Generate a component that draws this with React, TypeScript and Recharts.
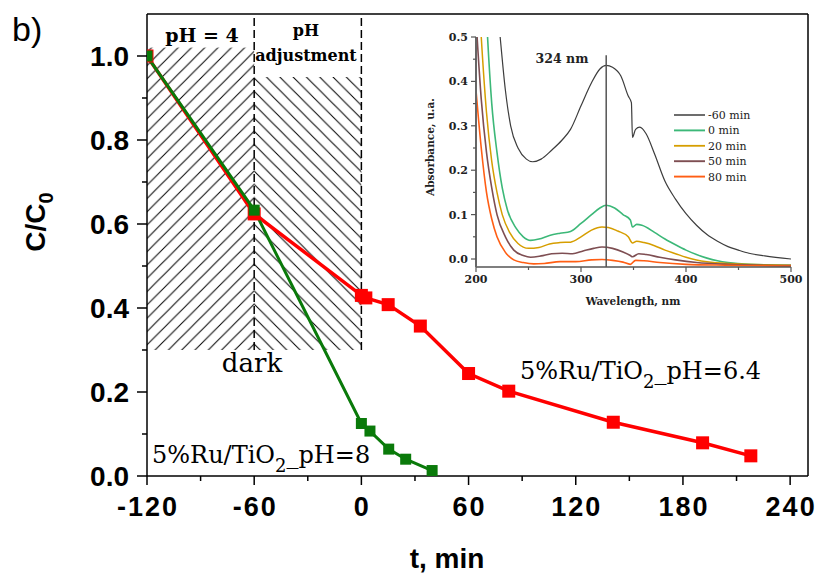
import React from 'react';
import { LineChart, Line, XAxis, YAxis, ReferenceArea, ReferenceLine } from 'recharts';

// ---- Main chart data ----
const ph64Times = [-120, -60, 0, 2.5, 15, 33, 60, 82.5, 141, 191, 218];
const ph64Values = [1.0, 0.624, 0.43, 0.424, 0.408, 0.357, 0.244, 0.202, 0.128, 0.079, 0.048];
const ph8Times = [-120, -60, 0, 4.8, 15.3, 24.8, 39.6];
const ph8Values = [1.0, 0.633, 0.125, 0.107, 0.064, 0.04, 0.013];

const xMajor = [-120, -60, 0, 60, 120, 180, 240];
const xAllTicks = [-120, -90, -60, -30, 0, 30, 60, 90, 120, 150, 180, 210, 240];
const yMajor = [0, 0.2, 0.4, 0.6, 0.8, 1.0];
const yAllTicks = [0, 0.1, 0.2, 0.3, 0.4, 0.5, 0.6, 0.7, 0.8, 0.9, 1.0];

// ---- Inset data (UV-vis spectra) ----
const wlM60 = [216, 223, 228, 233, 240, 248, 254, 262, 272, 282, 290, 300, 310, 318, 324, 330, 338, 345, 348, 349, 352, 356, 362, 370, 380, 390, 400, 410, 420, 430, 440, 450, 460, 475, 500];
const absM60 = [0.68, 0.5, 0.38, 0.3, 0.25, 0.225, 0.219, 0.225, 0.245, 0.268, 0.292, 0.345, 0.397, 0.428, 0.436, 0.432, 0.412, 0.367, 0.352, 0.274, 0.292, 0.297, 0.282, 0.237, 0.175, 0.135, 0.102, 0.076, 0.055, 0.04, 0.028, 0.02, 0.013, 0.007, 0.0];
const wl0 = [207, 211, 215, 220, 225, 230, 238, 245, 252, 260, 270, 280, 290, 300, 310, 318, 324, 332, 340, 347, 349, 353, 358, 370, 380, 390, 400, 410, 420, 430, 440, 460, 500];
const abs0 = [0.7, 0.5, 0.35, 0.24, 0.16, 0.11, 0.07, 0.05, 0.042, 0.045, 0.053, 0.058, 0.062, 0.08, 0.1, 0.115, 0.121, 0.115, 0.1, 0.088, 0.072, 0.078, 0.076, 0.06, 0.045, 0.032, 0.02, 0.01, 0.002, -0.004, -0.008, -0.012, -0.014];
const wl20 = [200, 205, 210, 215, 220, 225, 232, 240, 250, 260, 270, 280, 290, 300, 310, 320, 326, 335, 345, 349, 353, 360, 370, 380, 390, 400, 410, 420, 440, 500];
const abs20 = [0.72, 0.5, 0.33, 0.22, 0.15, 0.1, 0.06, 0.035, 0.024, 0.026, 0.034, 0.037, 0.038, 0.05, 0.065, 0.072, 0.071, 0.063, 0.05, 0.036, 0.04, 0.037, 0.03, 0.02, 0.012, 0.004, -0.002, -0.006, -0.01, -0.014];
const wl50 = [200, 205, 210, 215, 220, 228, 236, 245, 252, 262, 272, 282, 292, 302, 312, 320, 330, 340, 347, 349, 355, 362, 375, 390, 410, 440, 500];
const abs50 = [0.54, 0.36, 0.24, 0.16, 0.1, 0.05, 0.02, 0.008, 0.004, 0.007, 0.012, 0.013, 0.012, 0.018, 0.024, 0.027, 0.024, 0.016, 0.008, 0.005, 0.012, 0.01, 0.004, -0.002, -0.008, -0.012, -0.015];
const wl80 = [200, 205, 210, 215, 220, 228, 236, 245, 255, 265, 280, 295, 310, 320, 330, 340, 347, 352, 360, 375, 400, 440, 500];
const abs80 = [0.38, 0.25, 0.15, 0.09, 0.05, 0.015, -0.002, -0.008, -0.011, -0.01, -0.006, -0.006, -0.002, -0.001, -0.003, -0.007, -0.012, -0.003, -0.004, -0.008, -0.012, -0.014, -0.016];

const insetXMajor = [200, 300, 400, 500];
const insetXAll = [200, 250, 300, 350, 400, 450, 500];
const insetYMajor = [0, 0.1, 0.2, 0.3, 0.4, 0.5];
const insetYAll = [0, 0.05, 0.1, 0.15, 0.2, 0.25, 0.3, 0.35, 0.4, 0.45, 0.5];

const seriesNames = ['-60 min', '0 min', '20 min', '50 min', '80 min'];
const seriesColors = ['#3d3d3d', '#3cb878', '#d69e00', '#7e4e52', '#ff5e14'];
const seriesWidths = [1.2, 1.6, 1.5, 1.6, 1.6];

const zip = (xs: number[], ys: number[], kx: string, ky: string) => xs.map((v, i) => ({ [kx]: v, [ky]: ys[i] }));

const ph64Data = zip(ph64Times, ph64Values, 't', 'v');
const ph8Data = zip(ph8Times, ph8Values, 't', 'v');
const insetData = [
  zip(wlM60, absM60, 'w', 'a'),
  zip(wl0, abs0, 'w', 'a'),
  zip(wl20, abs20, 'w', 'a'),
  zip(wl50, abs50, 'w', 'a'),
  zip(wl80, abs80, 'w', 'a'),
];

const SANS = 'Liberation Sans, Arial, sans-serif';
const SERIF = 'DejaVu Serif, serif';

const MainXTick = (props: any) => {
  const { x, y, payload } = props;
  const major = xMajor.includes(payload.value);
  return (
    <g>
      <line x1={x} x2={x} y1={y} y2={y + (major ? 9 : 5)} stroke="#000" strokeWidth={1.5} />
      {major && (
        <text x={x + 1} y={y + 40} textAnchor="middle" fontFamily={SANS} fontWeight="bold" fontSize={27} letterSpacing={2} fill="#000">
          {payload.value}
        </text>
      )}
    </g>
  );
};

const MainYTick = (props: any) => {
  const { x, y, payload } = props;
  const major = yMajor.includes(payload.value);
  return (
    <g>
      <line x1={x} x2={x - (major ? 10 : 5)} y1={y} y2={y} stroke="#000" strokeWidth={1.5} />
      {major && (
        <text x={x - 18} y={y + 10} textAnchor="end" fontFamily={SANS} fontWeight="bold" fontSize={28} fill="#000">
          {Number(payload.value).toFixed(1)}
        </text>
      )}
    </g>
  );
};

const InsetXTick = (props: any) => {
  const { x, y, payload } = props;
  const major = insetXMajor.includes(payload.value);
  return (
    <g>
      <line x1={x} x2={x} y1={y} y2={y + (major ? 5 : 3)} stroke="#555" strokeWidth={1.2} />
      {major && (
        <text x={x} y={y + 16} textAnchor="middle" fontFamily={SERIF} fontWeight="bold" fontSize={11} fill="#222">
          {payload.value}
        </text>
      )}
    </g>
  );
};

const InsetYTick = (props: any) => {
  const { x, y, payload } = props;
  const major = insetYMajor.includes(payload.value);
  return (
    <g>
      <line x1={x} x2={x - (major ? 5 : 3)} y1={y} y2={y} stroke="#555" strokeWidth={1.2} />
      {major && (
        <text x={x - 8} y={y + 4} textAnchor="end" fontFamily={SERIF} fontWeight="bold" fontSize={11} fill="#222">
          {Number(payload.value).toFixed(1)}
        </text>
      )}
    </g>
  );
};

const squareDot = (size: number, color: string, minX: number) => (props: any) => {
  const { cx, cy, index } = props;
  if (cx == null || cy == null) return <g key={index} />;
  const left = Math.max(cx - size / 2, minX);
  const w = cx + size / 2 - left;
  return <rect key={index} x={left} y={cy - size / 2} width={w} height={size} fill={color} />;
};

const makeHatch = (id: string, dir: 'up' | 'down') => (props: any) => {
  const { x, y, width, height } = props;
  const h = 13.3;
  const px = dir === 'up' ? x + width : x;
  const py = y + height - 6;
  const st = { stroke: '#000', strokeWidth: 1 };
  return (
    <g>
      <defs>
        <pattern id={id} patternUnits="userSpaceOnUse" x={px} y={py} width={h} height={h}>
          {dir === 'up' ? (
            <>
              <line x1={0} y1={h} x2={h} y2={0} {...st} />
              <line x1={-1} y1={1} x2={1} y2={-1} {...st} />
              <line x1={h - 1} y1={h + 1} x2={h + 1} y2={h - 1} {...st} />
            </>
          ) : (
            <>
              <line x1={0} y1={0} x2={h} y2={h} {...st} />
              <line x1={-1} y1={h - 1} x2={1} y2={h + 1} {...st} />
              <line x1={h - 1} y1={-1} x2={h + 1} y2={1} {...st} />
            </>
          )}
        </pattern>
      </defs>
      <rect x={x} y={y} width={width} height={height} fill={`url(#${id})`} stroke="none" />
    </g>
  );
};

export default function App() {
  return (
    <div style={{ position: 'absolute', left: 0, top: 0, width: 816, height: 574, background: '#fff', overflow: 'hidden' }}>
      <div style={{ position: 'absolute', left: 0, top: 0 }}>
        <LineChart width={816} height={574} margin={{ top: 14, right: 8, bottom: 0, left: 0 }}>
          <XAxis
            type="number"
            dataKey="t"
            domain={[-120, 250]}
            ticks={xAllTicks}
            interval={0}
            tickSize={0}
            tickMargin={0}
            tick={<MainXTick />}
            height={98}
            axisLine={{ stroke: '#000', strokeWidth: 1.5 }}
            allowDataOverflow
          />
          <YAxis
            type="number"
            domain={[0, 1.1]}
            ticks={yAllTicks}
            interval={0}
            tickSize={0}
            tickMargin={0}
            tick={<MainYTick />}
            width={147}
            axisLine={{ stroke: '#000', strokeWidth: 1.5 }}
            allowDataOverflow
          />
          <ReferenceArea x1={-120} x2={-60} y1={0.3} y2={1.02} shape={makeHatch('hatchLeft', 'up')} />
          <ReferenceArea x1={-60} x2={0} y1={0.3} y2={0.95} shape={makeHatch('hatchRight', 'down')} />
          <ReferenceLine segment={[{ x: -60, y: 0.3 }, { x: -60, y: 1.1 }]} stroke="#000" strokeWidth={1.5} strokeDasharray="8 4" />
          <ReferenceLine segment={[{ x: 0, y: 0.3 }, { x: 0, y: 1.1 }]} stroke="#000" strokeWidth={1.5} strokeDasharray="8 4" />
          <ReferenceLine y={1.1} stroke="#000" strokeWidth={1.5} />
          <ReferenceLine x={250} stroke="#000" strokeWidth={1.5} />
          <Line
            data={ph64Data}
            dataKey="v"
            type="linear"
            stroke="#ff0000"
            strokeWidth={3.5}
            dot={squareDot(13, '#ff0000', 147)}
            isAnimationActive={false}
          />
          <Line
            data={ph8Data}
            dataKey="v"
            type="linear"
            stroke="#0a7a0a"
            strokeWidth={3}
            dot={squareDot(11, '#0a7a0a', 147)}
            isAnimationActive={false}
          />
        </LineChart>
      </div>

      <div style={{ position: 'absolute', left: 400, top: 20 }}>
        <LineChart width={416} height={300} margin={{ top: 17, right: 25, bottom: 0, left: 0 }}>
          <XAxis
            type="number"
            dataKey="w"
            domain={[200, 500]}
            ticks={insetXAll}
            interval={0}
            tickSize={0}
            tickMargin={0}
            tick={<InsetXTick />}
            height={53}
            axisLine={{ stroke: '#555', strokeWidth: 1.5 }}
            allowDataOverflow
          />
          <YAxis
            type="number"
            domain={[-0.018, 0.5]}
            ticks={insetYAll}
            interval={0}
            tickSize={0}
            tickMargin={0}
            tick={<InsetYTick />}
            width={76}
            axisLine={{ stroke: '#666', strokeWidth: 2 }}
            allowDataOverflow
          />
          {insetData.map((d, i) => (
            <Line
              key={seriesNames[i]}
              data={d}
              dataKey="a"
              type="monotone"
              stroke={seriesColors[i]}
              strokeWidth={seriesWidths[i]}
              dot={false}
              isAnimationActive={false}
            />
          ))}
          <ReferenceLine segment={[{ x: 324, y: -0.018 }, { x: 324, y: 0.459 }]} stroke="#555" strokeWidth={1.5} />
        </LineChart>
      </div>

      <svg width={816} height={574} style={{ position: 'absolute', left: 0, top: 0, pointerEvents: 'none' }}>
        <text x={12} y={41} fontFamily={SANS} fontSize={34} fill="#000">b)</text>
        <text x={202} y={42} textAnchor="middle" fontFamily={SERIF} fontWeight="bold" fontSize={19} fill="#000">pH = 4</text>
        <text x={306} y={36} textAnchor="middle" fontFamily={SERIF} fontWeight="bold" fontSize={16} fill="#000">pH</text>
        <text x={306} y={61} textAnchor="middle" fontFamily={SERIF} fontWeight="bold" fontSize={16} fill="#000">adjustment</text>
        <text x={252} y={372} textAnchor="middle" fontFamily={SERIF} fontSize={26} fill="#000">dark</text>
        <text x={520} y={379} fontFamily={SERIF} fontSize={24} fill="#000">
          5%Ru/TiO<tspan dy={9} fontSize={18}>2</tspan><tspan dy={-9}>_pH=6.4</tspan>
        </text>
        <text x={152} y={463} fontFamily={SERIF} fontSize={24} fill="#000">
          5%Ru/TiO<tspan dy={9} fontSize={18}>2</tspan><tspan dy={-9}>_pH=8</tspan>
        </text>
        <text x={447} y={568} textAnchor="middle" fontFamily={SANS} fontWeight="bold" fontSize={28} fill="#000">t, min</text>
        <text transform="translate(45,222) rotate(-90)" textAnchor="middle" fontFamily={SANS} fontWeight="bold" fontSize={28} fill="#000">
          C/C<tspan dy={8} fontSize={20}>0</tspan>
        </text>

        <text x={562} y={63} textAnchor="middle" fontFamily={SERIF} fontWeight="bold" fontSize={12.5} fill="#222">324 nm</text>
        <text x={633} y={305} textAnchor="middle" fontFamily={SERIF} fontWeight="bold" fontSize={10.5} fill="#222">Wavelength, nm</text>
        <text transform="translate(434,147) rotate(-90)" textAnchor="middle" fontFamily={SERIF} fontWeight="bold" fontSize={10.5} fill="#222">Absorbance, u.a.</text>
        {seriesNames.map((n, i) => (
          <g key={n}>
            <line x1={674} x2={705} y1={115 + i * 15.4} y2={115 + i * 15.4} stroke={seriesColors[i]} strokeWidth={seriesWidths[i] + 0.3} />
            <text x={708} y={119 + i * 15.4} fontFamily={SERIF} fontSize={11} fill="#222">{n}</text>
          </g>
        ))}
      </svg>
    </div>
  );
}
